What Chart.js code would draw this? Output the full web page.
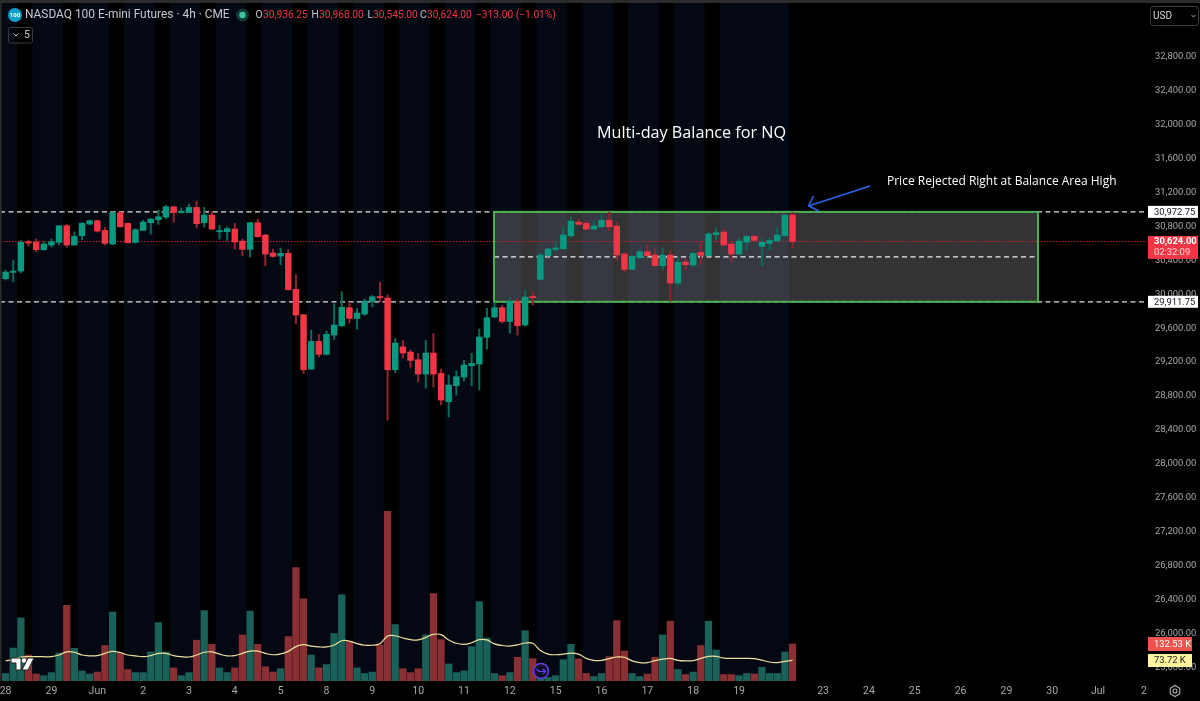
<!DOCTYPE html>
<html>
<head>
<meta charset="utf-8">
<title>NASDAQ 100 E-mini Futures 4h</title>
<style>
  html, body { margin: 0; padding: 0; background: #000; overflow: hidden; }
  canvas { display: block; }
</style>
<script src="https://cdn.jsdelivr.net/npm/chart.js@4/dist/chart.umd.min.js"></script>
</head>
<body>
<canvas id="chart" width="1200" height="701"></canvas>
<script>
// Four-hour NQ candles, one entry per bar
const opens = [30184,30259,30274,30617,30617,30526,30581,30613,30809,30581,30691,30829,30868,30754,30593,30963,30837,30613,30754,30845,30880,30911,31033,30966,30966,31025,30845,30935,30738,30738,30770,30628,30530,30845,30699,30487,30451,30483,30058,29759,29118,29444,29291,29519,29629,29842,29716,29767,29916,29971,29956,29110,29381,29319,29228,29059,29307,29067,28733,28921,29024,29157,29177,29492,29732,29842,29680,29912,29637,29971,30176,30455,30530,30538,30691,30852,30837,30770,30797,30872,30805,30475,30294,30432,30502,30463,30337,30463,30133,30380,30345,30494,30455,30703,30734,30593,30475,30617,30683,30565,30601,30628,30691,30936.25];
const highs = [30282,30404,30636,30640,30652,30617,30652,30809,30829,30738,30845,30876,30876,30790,30970,30970,30841,30774,30872,30892,30994,31049,31041,31018,31065,31100,31025,30978,30817,30797,30837,30652,30852,30888,30707,30534,30546,30526,30231,29763,29574,29527,29566,29889,30030,29905,29834,29944,29987,30141,29995,29480,29456,29342,29303,29456,29535,29118,29047,29094,29220,29303,29590,29834,29905,29873,29960,29952,30050,30023,30483,30542,30628,30797,30915,30888,30868,30864,30947,30970,30849,30494,30455,30526,30581,30538,30546,30518,30424,30424,30494,30620,30730,30786,30770,30620,30664,30691,30699,30652,30664,30782,30935,30968];
const lows = [30168,30148,30251,30569,30502,30522,30557,30581,30557,30581,30644,30821,30734,30581,30585,30793,30605,30605,30750,30711,30825,30892,30852,30955,30963,30782,30793,30762,30652,30636,30534,30455,30439,30675,30337,30439,30349,30050,29653,29067,29114,29260,29283,29464,29617,29661,29590,29751,29853,29909,28516,29075,29248,29138,28968,28894,28906,28697,28552,28811,28976,28921,28870,29354,29728,29661,29543,29519,29625,29873,30172,30451,30510,30530,30675,30817,30754,30766,30793,30754,30404,30266,30290,30420,30447,30333,30286,29920,30097,30286,30322,30357,30455,30640,30581,30380,30475,30526,30632,30333,30522,30628,30687,30545];
const closes = [30262,30274,30613,30605,30526,30593,30620,30809,30581,30683,30837,30868,30746,30601,30966,30797,30609,30762,30852,30888,30915,31033,30963,30978,31025,30833,30935,30770,30750,30774,30617,30530,30845,30679,30475,30447,30483,30054,29755,29110,29444,29291,29527,29637,29846,29716,29779,29920,29971,29960,29110,29425,29307,29220,29059,29307,29059,28752,28929,29028,29165,29185,29496,29724,29842,29680,29916,29629,29967,29960,30463,30534,30546,30699,30864,30825,30770,30805,30872,30797,30463,30294,30447,30502,30455,30337,30463,30133,30377,30349,30483,30459,30711,30727,30581,30475,30628,30683,30636,30613,30636,30699,30935,30624];

// Volume per bar and its moving average, in thousands of contracts
const volumes = [27,118,226,93,25,19,30,100,271,117,36,25,32,127,247,100,41,30,30,104,209,104,47,19,30,146,252,131,47,30,47,165,250,131,51,32,44,159,406,294,93,47,59,170,309,141,47,27,32,129,607,202,44,30,44,165,313,148,61,30,36,123,284,154,27,19,30,85,180,80,20,13,19,76,131,79,27,16,27,87,216,107,27,16,25,85,165,214,41,23,32,127,214,111,23,23,19,27,25,49,27,27,104,132.53];
const volumeMA = [72,77,86,87,87,87,87,93,104,103,93,90,91,99,106,102,93,90,87,91,99,99,91,87,86,93,103,104,96,90,91,99,107,107,99,94,97,106,123,130,125,122,122,129,144,143,134,128,128,133,161,162,154,148,147,156,167,166,147,135,131,137,148,147,133,127,125,129,136,135,109,96,94,96,100,96,81,74,74,80,86,85,72,66,66,73,78,81,74,72,73,81,88,88,82,81,81,81,80,75,68,66,70,73.72];

// Axis ticks
const priceTicks = [32800,32400,32000,31600,31200,30800,30400,30000,29600,29200,28800,28400,28000,27600,27200,26800,26400,26000,25600];
const dayLabels = ['28','29','Jun','2','3','4','5','8','9','10','11','12','15','16','17','18','19','23','24','25','26','29','30','Jul','2'];
const dayTickBars = [0,6,12,18,24,30,36,42,48,54,60,66,72,78,84,90,96,107,113,119,125,131,137,143,149];

// Session shading, as ranges of bar index
const sessionStarts = [-1,3.5,9.5,15.5,21.5,27.5,33.5,39.5,45.5,51.5,57.5,63.5,69.5,75.5,81.5,87.5,93.5];
const sessionEnds = [1.5,7.5,13.5,19.5,25.5,31.5,37.5,43.5,49.5,55.5,61.5,67.5,73.5,79.5,85.5,91.5,102.5];

// Balance area drawing
const balanceHigh = 30972.75;
const balanceLow = 29911.75;
const balanceMid = 30442.25;
const balanceStartBar = 63.93;
const balanceEndBar = 135.13;
const lastPrice = 30624;

const GREEN = '#089981', RED = '#f23645';
const isUp = i => closes[i] >= opens[i];
const bars = opens.map((_, i) => i);
const UI_FONT = 'Roboto, "Noto Sans", sans-serif';
const NOTE_FONT = '"Open Sans", "Noto Sans", sans-serif';

function fmt(v) {
  return v.toLocaleString('en-US', { minimumFractionDigits: 2, maximumFractionDigits: 2 });
}

// Dark session bands, balance rectangle and horizontal levels sit behind the candles
const backdrop = {
  id: 'backdrop',
  beforeDatasetsDraw(chart) {
    const { ctx, chartArea: a, scales: { x, y } } = chart;
    ctx.save();
    ctx.fillStyle = '#040813';
    sessionStarts.forEach((s, k) => {
      const l = Math.max(a.left, x.getPixelForValue(s));
      ctx.fillRect(l, a.top, x.getPixelForValue(sessionEnds[k]) - l, a.bottom - a.top);
    });

    ctx.lineWidth = 1.2;
    ctx.strokeStyle = '#e4e4e4';
    ctx.setLineDash([5, 3.5]);
    [balanceHigh, balanceLow].forEach(v => {
      ctx.beginPath();
      ctx.moveTo(a.left, y.getPixelForValue(v));
      ctx.lineTo(a.right, y.getPixelForValue(v));
      ctx.stroke();
    });

    const bx = x.getPixelForValue(balanceStartBar), bw = x.getPixelForValue(balanceEndBar) - bx;
    const by = y.getPixelForValue(balanceHigh), bh = y.getPixelForValue(balanceLow) - by;
    ctx.setLineDash([]);
    ctx.fillStyle = 'rgba(255,255,255,0.2)';
    ctx.fillRect(bx, by, bw, bh);

    ctx.strokeStyle = '#f0f0f0';
    ctx.setLineDash([5, 3.5]);
    ctx.beginPath();
    ctx.moveTo(bx, y.getPixelForValue(balanceMid));
    ctx.lineTo(bx + bw, y.getPixelForValue(balanceMid));
    ctx.stroke();

    ctx.strokeStyle = '#c4202f';
    ctx.lineWidth = 1;
    ctx.setLineDash([1.5, 1.5]);
    ctx.beginPath();
    ctx.moveTo(a.left, Math.round(y.getPixelForValue(lastPrice)) + 0.5);
    ctx.lineTo(a.right, Math.round(y.getPixelForValue(lastPrice)) + 0.5);
    ctx.stroke();

    ctx.setLineDash([]);
    ctx.strokeStyle = '#4caf50';
    ctx.lineWidth = 2;
    ctx.strokeRect(bx, by, bw, bh);
    ctx.restore();
  }
};

function tag(ctx, x, y, w, h, fill, text, color, font) {
  ctx.fillStyle = fill;
  ctx.fillRect(x, y, w, h);
  ctx.fillStyle = color;
  ctx.font = font;
  ctx.textAlign = 'left';
  ctx.textBaseline = 'middle';
  ctx.fillText(text, x + 6, y + h / 2 + 0.5);
}

// Header, notes, axis tags and small interface marks go on top
const overlay = {
  id: 'overlay',
  afterDraw(chart) {
    const { ctx, scales: { y } } = chart;
    ctx.save();

    // window edge strips
    ctx.fillStyle = '#2b2b2b';
    ctx.fillRect(0, 0, 1200, 3);
    ctx.fillRect(0, 3, 1.5, 678);

    // symbol header
    ctx.fillStyle = '#0e9ecb';
    ctx.beginPath(); ctx.arc(15, 15, 7, 0, Math.PI * 2); ctx.fill();
    ctx.fillStyle = '#fff';
    ctx.font = 'bold 6px ' + UI_FONT;
    ctx.textAlign = 'center';
    ctx.textBaseline = 'middle';
    ctx.fillText('100', 15, 15.5);

    ctx.textAlign = 'left';
    ctx.fillStyle = '#c4c8d0';
    ctx.font = '11.9px ' + UI_FONT;
    ctx.fillText('NASDAQ 100 E-mini Futures · 4h · CME', 25, 15.5);

    ctx.fillStyle = '#123a36';
    ctx.beginPath(); ctx.arc(242.5, 15, 6.5, 0, Math.PI * 2); ctx.fill();
    ctx.fillStyle = '#3cc4a4';
    ctx.beginPath(); ctx.arc(242.5, 15, 3.2, 0, Math.PI * 2); ctx.fill();

    ctx.font = '10.2px ' + UI_FONT;
    [['O', 255.5, '30,936.25', 263], ['H', 311.5, '30,968.00', 319], ['L', 367.5, '30,545.00', 373], ['C', 420, '30,624.00', 427]].forEach(r => {
      ctx.fillStyle = '#c4c8d0';
      ctx.fillText(r[0], r[1], 15.5);
      ctx.fillStyle = RED;
      ctx.fillText(r[2], r[3], 15.5);
    });
    ctx.fillText('−313.00 (−1.01%)', 476, 15.5);

    // collapsed indicators button
    ctx.strokeStyle = '#3a3a3a';
    ctx.lineWidth = 1;
    ctx.beginPath(); ctx.roundRect(8.5, 27.5, 24, 15.5, 2); ctx.stroke();
    ctx.strokeStyle = '#c4c8d0';
    ctx.beginPath(); ctx.moveTo(13.5, 33.5); ctx.lineTo(16, 36); ctx.lineTo(18.5, 33.5); ctx.stroke();
    ctx.fillStyle = '#c4c8d0';
    ctx.font = '10.5px ' + UI_FONT;
    ctx.fillText('5', 24, 35.5);

    // currency selector
    ctx.strokeStyle = '#3f3f3f';
    ctx.beginPath(); ctx.roundRect(1150.5, 6.5, 48, 19, 3); ctx.stroke();
    ctx.fillStyle = '#d8dae0';
    ctx.font = '10px ' + UI_FONT;
    ctx.fillText('USD', 1153, 16);
    ctx.strokeStyle = '#aaa';
    ctx.beginPath(); ctx.moveTo(1191.5, 15); ctx.lineTo(1193.5, 17); ctx.lineTo(1195.5, 15); ctx.stroke();

    // notes on the chart
    ctx.fillStyle = '#ffffff';
    ctx.font = '500 16.2px ' + NOTE_FONT;
    ctx.fillText('Multi-day Balance for NQ', 597, 133);
    ctx.font = '500 12px ' + NOTE_FONT;
    ctx.fillText('Price Rejected Right at Balance Area High', 887, 182);

    // arrow pointing at the balance high
    ctx.strokeStyle = '#2a66f0';
    ctx.lineWidth = 1.5;
    ctx.beginPath();
    ctx.moveTo(870, 186); ctx.lineTo(808.5, 206);
    ctx.moveTo(813.5, 196); ctx.lineTo(808.5, 206); ctx.lineTo(819, 211);
    ctx.stroke();

    // price axis tags, anchored to the price scale
    const tagFont = '9.4px ' + UI_FONT;
    const hiY = y.getPixelForValue(balanceHigh), loY = y.getPixelForValue(balanceLow);
    tag(ctx, 1148, hiY - 6, 50, 12, '#ffffff', fmt(balanceHigh), '#131722', tagFont);
    tag(ctx, 1148, loY - 6, 50, 12, '#ffffff', fmt(balanceLow), '#131722', tagFont);
    const lp = y.getPixelForValue(lastPrice);
    ctx.fillStyle = RED;
    ctx.fillRect(1148, lp - 5.5, 50, 23);
    ctx.fillStyle = '#ffffff';
    ctx.font = 'bold ' + tagFont;
    ctx.fillText(fmt(lastPrice), 1154, lp);
    ctx.fillStyle = '#ffd6da';
    ctx.font = tagFont;
    ctx.fillText('02:32:09', 1154, lp + 11);

    tag(ctx, 1148, 637, 44, 14, '#ef5350', '132.53 K', '#ffffff', tagFont);
    tag(ctx, 1148, 654, 44, 13, '#fff59d', '73.72 K', '#131722', tagFont);

    // settings cog on the axis corner
    ctx.strokeStyle = '#b0b0b0';
    ctx.lineWidth = 1.1;
    ctx.beginPath();
    for (let k = 0; k < 6; k++) {
      const t = Math.PI / 3 * k + Math.PI / 6;
      const px = 1175 + 5.5 * Math.cos(t), py = 691 + 5.5 * Math.sin(t);
      if (k) ctx.lineTo(px, py); else ctx.moveTo(px, py);
    }
    ctx.closePath(); ctx.stroke();
    ctx.beginPath(); ctx.arc(1175, 691, 2, 0, Math.PI * 2); ctx.stroke();

    // replay marker
    ctx.fillStyle = '#10102a';
    ctx.strokeStyle = '#6a3df0';
    ctx.lineWidth = 1.5;
    ctx.beginPath(); ctx.arc(541, 671, 7.5, 0, Math.PI * 2); ctx.fill(); ctx.stroke();
    ctx.lineWidth = 1.2;
    ctx.beginPath();
    ctx.moveTo(536.5, 669); ctx.lineTo(539, 671.5); ctx.lineTo(545.5, 671.5);
    ctx.moveTo(543, 669); ctx.lineTo(545.5, 671.5); ctx.lineTo(543, 674);
    ctx.stroke();

    // platform mark in the lower left corner
    ctx.fillStyle = '#ffffff';
    ctx.strokeStyle = '#202020';
    ctx.lineWidth = 1;
    ctx.beginPath();
    ctx.moveTo(11, 658); ctx.lineTo(21, 658); ctx.lineTo(21, 670); ctx.lineTo(16, 670); ctx.lineTo(16, 663); ctx.lineTo(11, 663);
    ctx.closePath(); ctx.fill(); ctx.stroke();
    ctx.beginPath(); ctx.arc(24, 660.5, 2.2, 0, Math.PI * 2); ctx.fill();
    ctx.beginPath();
    ctx.moveTo(28, 658); ctx.lineTo(34, 658); ctx.lineTo(28, 670); ctx.lineTo(22, 670);
    ctx.closePath(); ctx.fill(); ctx.stroke();

    ctx.restore();
  }
};

new Chart(document.getElementById('chart'), {
  data: {
    datasets: [
      {
        type: 'line', label: 'Volume MA', yAxisID: 'vol', order: 1,
        data: bars.map(i => ({ x: i, y: volumeMA[i] })),
        borderColor: '#ecdf9c', borderWidth: 1.2, pointRadius: 0, tension: 0.4
      },
      {
        type: 'bar', label: 'Body', order: 2, grouped: false, barThickness: 5.8, minBarLength: 1.2,
        data: bars.map(i => ({ x: i, y: [opens[i], closes[i]] })),
        backgroundColor: bars.map(i => isUp(i) ? GREEN : RED)
      },
      {
        type: 'bar', label: 'Wick', order: 3, grouped: false, barThickness: 1.4,
        data: bars.map(i => ({ x: i, y: [lows[i], highs[i]] })),
        backgroundColor: bars.map(i => isUp(i) ? '#0a6a5a' : '#8f2433')
      },
      {
        type: 'bar', label: 'Volume', yAxisID: 'vol', order: 4, grouped: false, barThickness: 6.6,
        data: bars.map(i => ({ x: i, y: volumes[i] })),
        backgroundColor: bars.map(i => isUp(i) ? '#1a6159' : '#8a3034')
      }
    ]
  },
  options: {
    responsive: false,
    animation: false,
    devicePixelRatio: 1,
    events: [],
    layout: { autoPadding: false, padding: { top: 3, left: 0, right: 0, bottom: 0 } },
    plugins: { legend: { display: false }, title: { display: false }, tooltip: { enabled: false } },
    scales: {
      x: {
        type: 'linear',
        offset: false,
        min: -0.733,
        max: 149.4,
        grid: { display: false, drawTicks: false },
        border: { display: false },
        afterBuildTicks: s => { s.ticks = dayTickBars.map(v => ({ value: v })); },
        afterFit: s => { s.height = 20; s.paddingLeft = 0; s.paddingRight = 0; },
        ticks: {
          autoSkip: false, maxRotation: 0, padding: 4,
          color: '#a8a8a8', font: { family: UI_FONT, size: 10.5 },
          callback: v => dayLabels[dayTickBars.indexOf(v)]
        }
      },
      y: {
        type: 'linear',
        position: 'right',
        min: 25437.2,
        max: 33437.2,
        grid: { display: false, drawTicks: false },
        border: { display: false },
        afterBuildTicks: s => { s.ticks = priceTicks.map(v => ({ value: v })); },
        afterFit: s => { s.width = 53; s.paddingTop = 0; s.paddingBottom = 0; },
        ticks: {
          padding: 8, color: '#a8a8a8', font: { family: UI_FONT, size: 9.4 },
          callback: v => fmt(v)
        }
      },
      vol: {
        type: 'linear',
        display: false,
        min: 0,
        max: 2427
      }
    }
  },
  plugins: [backdrop, overlay]
});
</script>
</body>
</html>
